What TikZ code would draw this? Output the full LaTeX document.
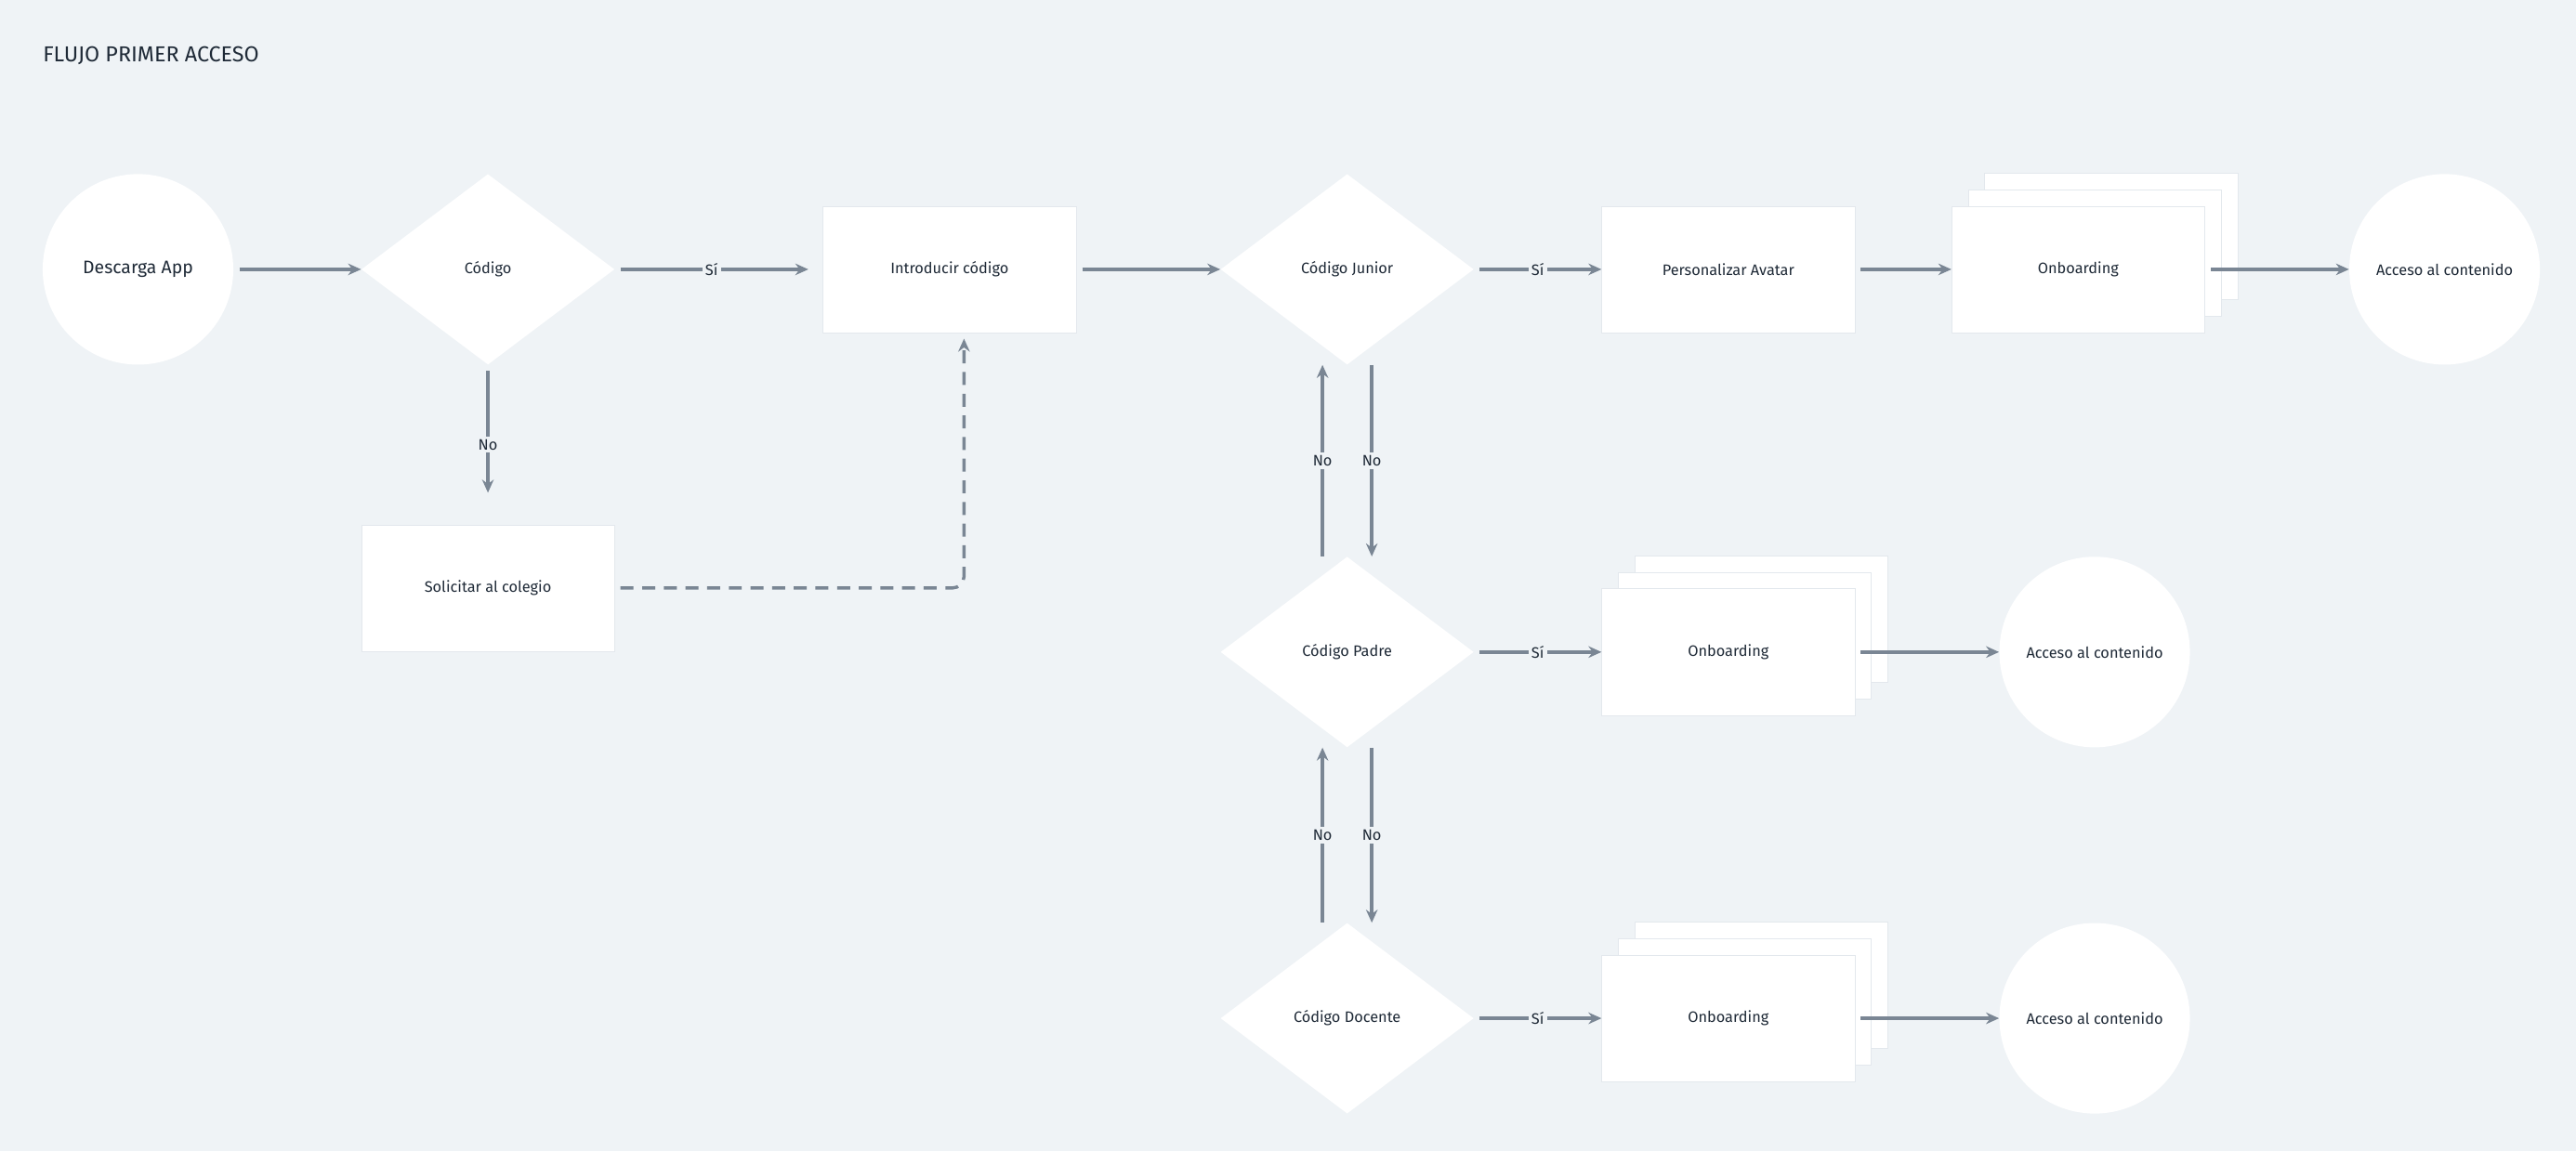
\documentclass[tikz,border=0pt]{standalone}
\usepackage{fontspec}
\setmainfont{Fira Sans}
\usetikzlibrary{shapes.geometric,shadows,arrows.meta}
\definecolor{fondo}{HTML}{EFF3F6}
\definecolor{linea}{HTML}{7A8694}
\definecolor{texto}{HTML}{1F2A37}
\definecolor{borde}{HTML}{E3E8ED}

\begin{document}
\begin{tikzpicture}[x=0.04cm,y=-0.04cm,font=\fontsize{10.5}{12}\selectfont,text=texto,
  inicio/.style={circle,fill=white,minimum size=4.64cm,inner sep=0pt},
  decision/.style={diamond,fill=white,minimum width=6.16cm,minimum height=4.64cm,inner sep=0pt},
  paso/.style={rectangle,fill=white,draw=borde,minimum width=6.16cm,minimum height=3.08cm},
  pila/.style={paso,double copy shadow={shadow xshift=0.4cm,shadow yshift=0.4cm,fill=white,draw=borde}},
  flecha/.style={draw=linea,line width=2.2pt,-{Stealth[length=9pt,width=8pt]}},
  etiq/.style={fill=fondo,inner sep=2pt,text=texto}]
\fill[fondo] (0,0) rectangle (1568,701);
\node[anchor=west,inner sep=0pt,font=\fontsize{15}{17}\selectfont] (titulo) at (26,34) {FLUJO PRIMER ACCESO};

\node[inicio,font=\fontsize{12.5}{14}\selectfont] (app) at (84,164) {Descarga App};
\node[decision] (cod) at (297,164) {Código};
\node[paso] (intro) at (578,164) {Introducir código};
\node[paso] (soli) at (297,358) {Solicitar al colegio};
\node[decision] (junior) at (820,164) {Código Junior};
\node[paso] (avatar) at (1052,164) {Personalizar Avatar};
\node[pila] (onb1) at (1265,164) {Onboarding};
\node[inicio] (acc1) at (1488,164) {Acceso al contenido};
\node[decision] (padre) at (820,397) {Código Padre};
\node[pila] (onb2) at (1052,397) {Onboarding};
\node[inicio] (acc2) at (1275,397) {Acceso al contenido};
\node[decision] (docente) at (820,620) {Código Docente};
\node[pila] (onb3) at (1052,620) {Onboarding};
\node[inicio] (acc3) at (1275,620) {Acceso al contenido};

\draw[flecha,shorten <=4pt] (app) -- (cod);
\draw[flecha,shorten <=4pt] (cod) -- node[etiq] {Sí} ([xshift=-10pt]intro.west);
\draw[flecha,shorten <=4pt,shorten >=22pt] (cod) -- node[etiq] {No} (soli.north);
\draw[flecha,dashed,dash pattern=on 9pt off 6pt,rounded corners=8pt,shorten <=4pt,shorten >=4pt]
  (soli.east) -| ([xshift=10pt]intro.south);
\draw[flecha,shorten <=4pt] (intro) -- (junior);
\draw[flecha,shorten <=4pt] (junior) -- node[etiq] {Sí} (avatar);
\draw[flecha,shorten <=4pt] (avatar) -- (onb1);
\draw[flecha,shorten <=4pt] (onb1) -- (acc1);
\draw[flecha] ([xshift=-0.6cm]padre.north) -- node[etiq] {No} ([xshift=-0.6cm]junior.south);
\draw[flecha] ([xshift=0.6cm]junior.south) -- node[etiq] {No} ([xshift=0.6cm]padre.north);
\draw[flecha,shorten <=4pt] (padre) -- node[etiq] {Sí} (onb2);
\draw[flecha,shorten <=4pt] (onb2) -- (acc2);
\draw[flecha] ([xshift=-0.6cm]docente.north) -- node[etiq] {No} ([xshift=-0.6cm]padre.south);
\draw[flecha] ([xshift=0.6cm]padre.south) -- node[etiq] {No} ([xshift=0.6cm]docente.north);
\draw[flecha,shorten <=4pt] (docente) -- node[etiq] {Sí} (onb3);
\draw[flecha,shorten <=4pt] (onb3) -- (acc3);
\end{tikzpicture}
\end{document}
